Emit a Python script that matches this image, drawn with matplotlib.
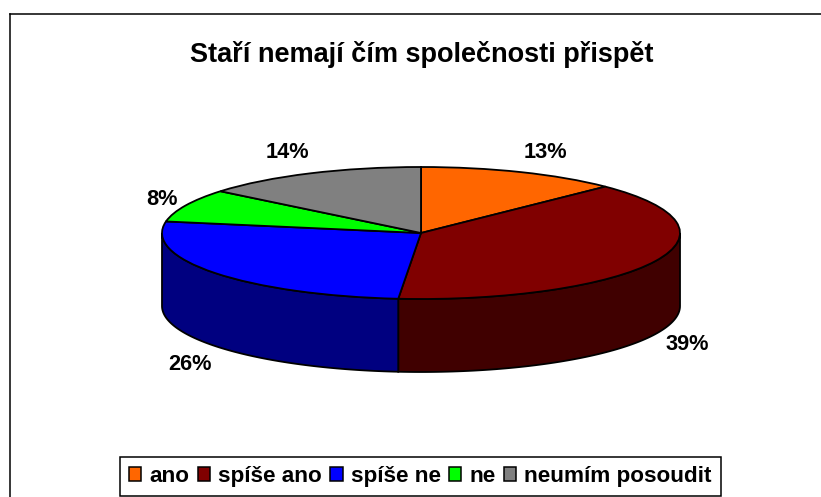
import numpy as np
from matplotlib import pyplot as plt
from matplotlib.patches import Patch

plt.rcParams['font.family'] = ['Liberation Sans', 'DejaVu Sans']
plt.rcParams['font.weight'] = 'bold'

titulek = 'Staří nemají čím společnosti přispět'
kategorie = ['ano', 'spíše ano', 'spíše ne', 'ne', 'neumím posoudit']
podily = [12.6, 38.8, 26.4, 8.1, 14.1]
barvy = ['#FF6600', '#800000', '#0000FF', '#00FF00', '#808080']
barvy_stena = ['#803300', '#400000', '#000080', '#008000', '#404040']

W, H = 821, 497
fig = plt.figure(figsize=(W/100, H/100), dpi=100, facecolor='white')

# ramecek grafu: vpravo a dole je useknuty
fig.add_artist(plt.Line2D([10/W, 10/W], [0, 1-14/H], color='k', lw=1.1))
fig.add_artist(plt.Line2D([10/W, 1], [1-14/H, 1-14/H], color='k', lw=1.1))

# osa kolacem: horni plocha 162..680 x 167..299, hloubka 73 px
hloubka = 73/66
ax = fig.add_axes([162/W, 1-372/H, 518/W, 205/H])
wedges, _ = ax.pie(podily, colors=barvy, startangle=90, counterclock=False, radius=1,
                   wedgeprops=dict(edgecolor='k', linewidth=1.3))
ax.set_aspect('auto')
ax.set_xlim(-1, 1)
ax.set_ylim(-1-hloubka, 1)

# bocni steny, jen predni pulka elipsy
hrany = np.concatenate([[0], np.cumsum(podily)])/100*360
for i in range(len(podily)):
    a0 = max(hrany[i], 90)
    a1 = min(hrany[i+1], 270)
    if a1 <= a0:
        continue
    t = np.radians(np.linspace(a0, a1, 80))
    x = np.sin(t)
    y = np.cos(t)
    ax.fill(np.r_[x, x[::-1]], np.r_[y, y[::-1]-hloubka], facecolor=barvy_stena[i],
            edgecolor='k', linewidth=1.3, zorder=0.5, clip_on=False)

fig.text(421.5/W, 1-54/H, titulek, ha='center', va='center', fontsize=19.5, fontweight='bold')

# popisky s procenty
pozice = [(545.5, 152), (687.5, 344), (189.5, 364), (162, 199), (287.5, 153)]
for p, (px, py) in zip(podily, pozice):
    fig.text(px/W, 1-py/H, '%.0f%%' % p, ha='center', va='center', fontsize=15.7, fontweight='bold')

polozky = [Patch(facecolor=b, edgecolor='k', linewidth=1.1, label=k) for b, k in zip(barvy, kategorie)]
leg = fig.legend(handles=polozky, loc='center', bbox_to_anchor=(420.5/W, 1-476.5/H), ncol=5,
                 fontsize=16.2, frameon=True, fancybox=False, edgecolor='k', framealpha=1,
                 handlelength=0.54, handleheight=0.54, handletextpad=0.36, columnspacing=0.38,
                 borderpad=0.4, borderaxespad=0)
leg.get_frame().set_linewidth(1.1)

plt.savefig('out.png', dpi=100)
